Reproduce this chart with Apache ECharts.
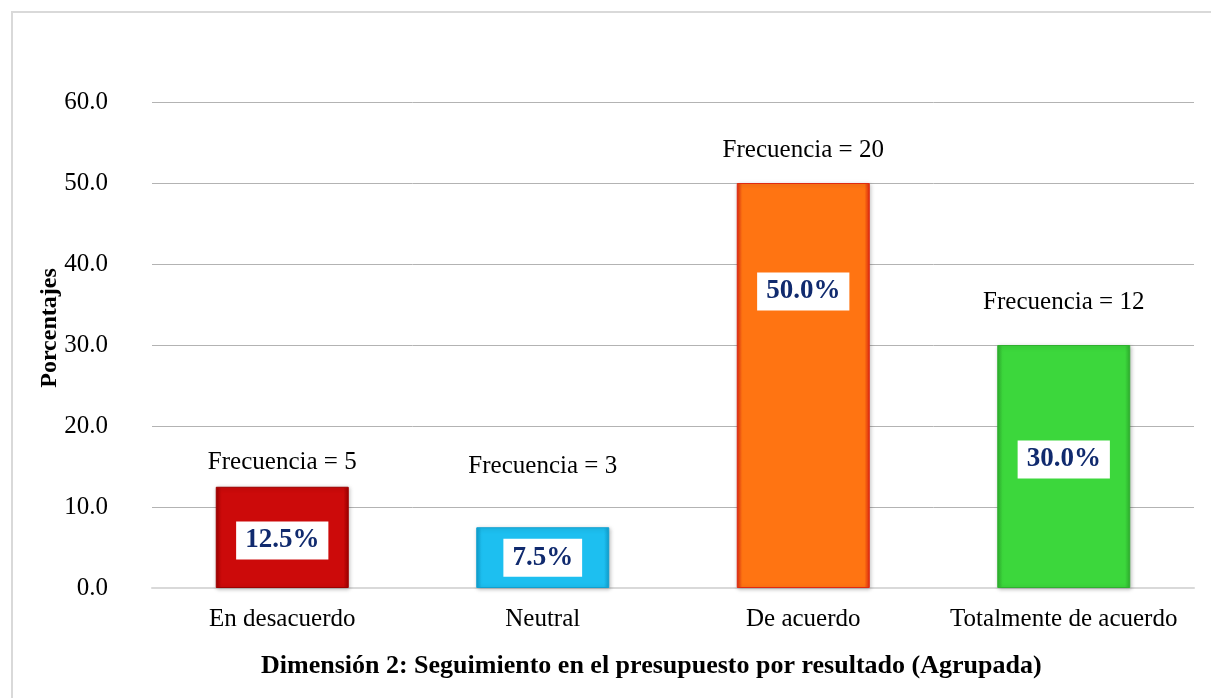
<!DOCTYPE html>
<html>
<head>
<meta charset="utf-8">
<script src="https://cdn.jsdelivr.net/npm/echarts@6/dist/echarts.min.js"></script>
<style>
  html, body { margin: 0; padding: 0; background: #fff; }
  .frame {
    position: absolute; left: 11px; top: 11px; right: -4px; bottom: -4px;
    border-left: 2px solid #d9d9d9; border-top: 2px solid #d9d9d9;
  }
  #bar-chart { position: absolute; left: 0; top: 0; width: 1211px; height: 698px; }
</style>
</head>
<body>
<div class="frame"></div>
<div id="bar-chart"></div>
<script>
// data
const categories = ['En desacuerdo', 'Neutral', 'De acuerdo', 'Totalmente de acuerdo']
const percentages = [12.5, 7.5, 50.0, 30.0]
const frequencies = [5, 3, 20, 12]
const yTicks = [0, 10, 20, 30, 40, 50, 60]

const barColors = ['#cc0a0a', '#1dbff0', '#ff7412', '#3cd73c']
const borderColors = ['#9e0000', '#10a0d0', '#e02a10', '#2fb02f']
// tweak where the labels sit, like the original
const innerOffsets = [[0, 3], [0, 0], [0, -94], [0, -7]]
const topDistances = [12, 48, 20, 30]

const font = '"Liberation Serif", "Times New Roman", serif'

const chart = echarts.init(document.getElementById('bar-chart'))

chart.setOption({
  animation: false,
  title: {
    text: 'Dimensión 2: Seguimiento en el presupuesto por resultado (Agrupada)',
    left: 256,
    top: 648,
    textStyle: { fontFamily: font, fontSize: 26, fontWeight: 'bold', color: '#000' }
  },
  grid: { left: 152, right: 17, top: 102, bottom: 110 },
  xAxis: {
    type: 'category',
    data: categories,
    axisTick: { show: false },
    axisLine: { lineStyle: { color: '#d9d9d9', width: 2 } },
    axisLabel: { fontFamily: font, fontSize: 25, color: '#000', margin: 19, interval: 0, hideOverlap: false }
  },
  yAxis: {
    type: 'value',
    min: yTicks[0],
    max: yTicks[yTicks.length - 1],
    interval: 10,
    name: 'Porcentajes',
    nameLocation: 'middle',
    nameGap: 90,
    nameMoveOverlap: false,
    nameTextStyle: { fontFamily: font, fontSize: 24, fontWeight: 'bold', color: '#000', padding: [0, 0, 0, 34] },
    axisLabel: {
      fontFamily: font, fontSize: 25, color: '#000', margin: 44,
      formatter: function (v) { return v.toFixed(1) }
    },
    splitLine: { lineStyle: { color: '#b3b3b3', width: 1 } }
  },
  series: [
    {
      type: 'bar',
      barWidth: 133,
      data: percentages.map(function (v, i) {
        return {
          value: v,
          itemStyle: {
            color: new echarts.graphic.LinearGradient(0, 0, 1, 0, [
              { offset: 0, color: borderColors[i] },
              { offset: 0.04, color: barColors[i] },
              { offset: 0.96, color: barColors[i] },
              { offset: 1, color: borderColors[i] }
            ]),
            borderColor: borderColors[i],
            borderWidth: 1,
            shadowColor: 'rgba(0,0,0,0.25)',
            shadowBlur: 4,
            shadowOffsetX: 1,
            shadowOffsetY: 1
          },
          label: { offset: innerOffsets[i] }
        }
      }),
      label: {
        show: true,
        position: 'inside',
        formatter: function (p) { return p.value.toFixed(1) + '%' },
        fontFamily: font,
        fontSize: 27,
        fontWeight: 'bold',
        color: '#102a6e',
        backgroundColor: '#fff',
        padding: [6, 9, 5, 9]
      }
    },
    {
      // invisible copy, only for the "Frecuencia" text above each bar
      type: 'bar',
      barWidth: 133,
      barGap: '-100%',
      silent: true,
      itemStyle: { color: 'transparent' },
      data: percentages.map(function (v, i) {
        return { value: v, label: { distance: topDistances[i] } }
      }),
      label: {
        show: true,
        position: 'top',
        formatter: function (p) { return 'Frecuencia = ' + frequencies[p.dataIndex] },
        fontFamily: font,
        fontSize: 25,
        color: '#000'
      }
    }
  ]
})
</script>
</body>
</html>
